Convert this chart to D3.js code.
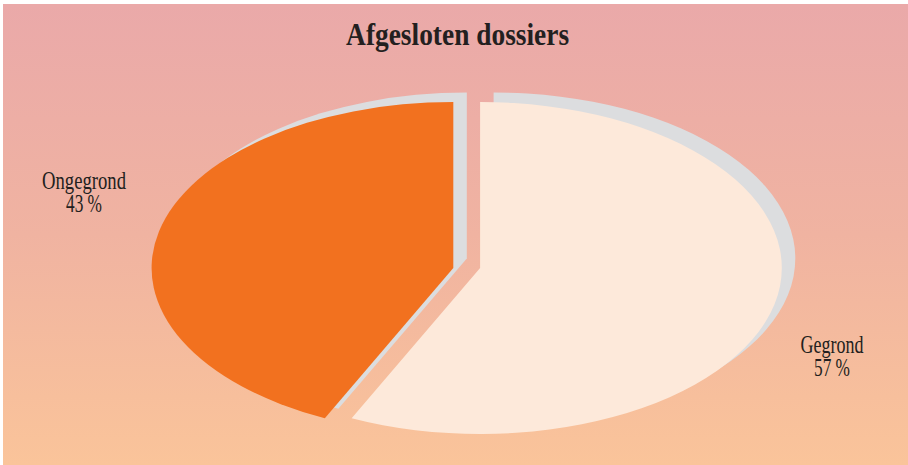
<!DOCTYPE html>
<html>
<head>
<meta charset="utf-8">
<script src="https://cdn.jsdelivr.net/npm/d3@7"></script>
<style>
  body { margin: 0; background: #fff; }
  svg { display: block; }
</style>
</head>
<body>
<div id="chart"></div>
<script>
// data
var title = 'Afgesloten dossiers';
var categories = ['Gegrond', 'Ongegrond'];
var values = [57, 43];
var colors = ['#FDE9DA', '#F2711F'];

var width = 908, height = 465;
var cx = 466.7, cy = 268;      // pie centre
var rx = 301.7, ry = 166;      // ellipse radii
var explode = 13.4;
var shadow = {dx: 13.5, dy: -9.5};

var svg = d3.select('#chart').append('svg')
  .attr('width', width)
  .attr('height', height);

var defs = svg.append('defs');
var grad = defs.append('linearGradient')
  .attr('id', 'bg')
  .attr('x1', 0).attr('y1', 0).attr('x2', 0).attr('y2', 1);
grad.append('stop').attr('offset', '0%').attr('stop-color', '#EAA9A9');
grad.append('stop').attr('offset', '50%').attr('stop-color', '#F0B3A1');
grad.append('stop').attr('offset', '100%').attr('stop-color', '#FAC49A');

svg.append('rect')
  .attr('x', 3).attr('y', 4)
  .attr('width', width - 3).attr('height', height - 4)
  .attr('fill', 'url(#bg)');

svg.append('text')
  .attr('x', 457.6).attr('y', 45)
  .attr('text-anchor', 'middle')
  .attr('font-family', 'Liberation Serif, serif')
  .attr('font-weight', 'bold')
  .attr('font-size', 31)
  .attr('textLength', 223)
  .attr('lengthAdjust', 'spacingAndGlyphs')
  .attr('fill', '#231F20')
  .text(title);

var data = categories.map(function(c, i) { return {name: c, value: values[i], color: colors[i]} });

var pie = d3.pie()
  .sort(null)
  .value(function(d) { return d.value });

var arc = d3.arc()
  .innerRadius(0)
  .outerRadius(ry);

var arcs = pie(data);

function offset(d) {
  var mid = (d.startAngle + d.endAngle) / 2;
  return Math.sin(mid) >= 0 ? explode : -explode;
}

// grey shadows first
svg.append('g').selectAll('path')
  .data(arcs)
  .enter()
  .append('path')
    .attr('transform', function(d) {
      return 'translate(' + (cx + offset(d) + shadow.dx) + ',' + (cy + shadow.dy) + ') scale(' + (rx / ry) + ',1)';
    })
    .attr('d', arc)
    .attr('fill', '#DCDDDF');

svg.append('g').selectAll('path')
  .data(arcs)
  .enter()
  .append('path')
    .attr('transform', function(d) {
      return 'translate(' + (cx + offset(d)) + ',' + cy + ') scale(' + (rx / ry) + ',1)';
    })
    .attr('d', arc)
    .attr('fill', function(d) { return d.data.color });

// labels
var labelPos = {Gegrond: [832, 353.3], Ongegrond: [84, 189.3]};
var labelWidth = {Gegrond: 63, Ongegrond: 84};

var labels = svg.append('g').selectAll('g')
  .data(arcs)
  .enter()
  .append('g')
    .attr('font-family', 'Liberation Serif, serif')
    .attr('font-size', 25)
    .attr('fill', '#231F20')
    .attr('text-anchor', 'middle');

labels.append('text')
  .attr('x', function(d) { return labelPos[d.data.name][0] })
  .attr('y', function(d) { return labelPos[d.data.name][1] })
  .attr('textLength', function(d) { return labelWidth[d.data.name] })
  .attr('lengthAdjust', 'spacingAndGlyphs')
  .text(function(d) { return d.data.name });

labels.append('text')
  .attr('x', function(d) { return labelPos[d.data.name][0] })
  .attr('y', function(d) { return labelPos[d.data.name][1] + 22.4 })
  .attr('textLength', 36)
  .attr('lengthAdjust', 'spacingAndGlyphs')
  .text(function(d) { return d.data.value + ' %' });
</script>
</body>
</html>
